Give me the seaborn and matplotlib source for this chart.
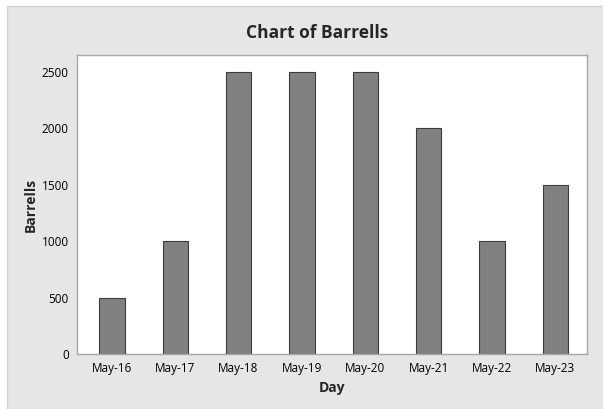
import matplotlib
matplotlib.use("Agg")
import matplotlib.pyplot as plt
import seaborn as sns
import pandas as pd
from matplotlib.patches import Rectangle

days = ["May-16", "May-17", "May-18", "May-19", "May-20", "May-21", "May-22", "May-23"]
barrels = [500, 1000, 2500, 2500, 2500, 2000, 1000, 1500]

df = pd.DataFrame({"Day": days, "Barrells": barrels})

sns.set_style("white")
plt.rcParams['font.family'] = ['Open Sans', 'DejaVu Sans']

W, H = 603, 409
fig = plt.figure(figsize=(W / 100, H / 100), dpi=100)
fig.patch.set_facecolor("white")
# grey frame like Minitab
fig.patches.append(Rectangle((7 / W, 0), 1 - 7 / W, 1 - 6 / H, transform=fig.transFigure,
                             facecolor="#e6e6e6", edgecolor="#d4d4d4", linewidth=1, zorder=-1))

ax = fig.add_axes([77 / W, 1 - 354 / H, (587 - 77) / W, (354 - 55) / H])
ax.set_facecolor("white")

sns.barplot(data=df, x="Day", y="Barrells", color="#808080", saturation=1,
            width=0.4, edgecolor="#3c3c3c", linewidth=0.8, ax=ax)

ax.set_xlim(-0.55, 7.5)
ax.set_ylim(0, 2650)
ax.set_yticks([0, 500, 1000, 1500, 2000, 2500])

for s in ax.spines.values():
    s.set_color("#a8a8a8")
    s.set_linewidth(1)

ax.tick_params(axis="both", direction="out", length=4, width=0.8, color="#a8a8a8",
               labelsize=8.5, labelcolor="black", pad=2)
ax.set_xlabel("Day", fontsize=10, fontweight="bold", labelpad=4)
ax.set_ylabel("Barrells", fontsize=10, fontweight="bold", labelpad=3)

fig.text(317 / W, 1 - 33 / H, "Chart of Barrells", ha="center", va="center",
         fontsize=12.5, fontweight="bold")

fig.savefig("out.png", dpi=100, facecolor=fig.get_facecolor())
